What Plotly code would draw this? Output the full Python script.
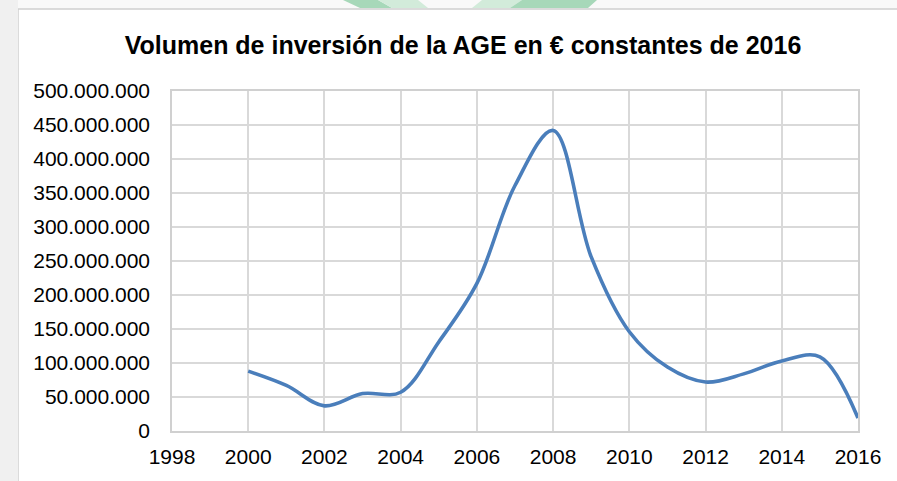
import plotly.graph_objects as go

# ---- data ----
years = [2000, 2001, 2002, 2003, 2004, 2005, 2006, 2007, 2008,
         2009, 2010, 2011, 2012, 2013, 2014, 2015, 2016]
inversion = [88e6, 67e6, 37e6, 55e6, 57e6, 131e6, 217e6, 361e6, 442e6,
             256e6, 146e6, 94e6, 72e6, 84e6, 103e6, 109e6, 19e6]
x_ticks = [1998, 2000, 2002, 2004, 2006, 2008, 2010, 2012, 2014, 2016]
y_ticks = [0, 50e6, 100e6, 150e6, 200e6, 250e6, 300e6, 350e6, 400e6, 450e6, 500e6]
title_text = "Volumen de inversión de la AGE en € constantes de 2016"

W, H = 897, 481
L, R, T, B = 172, 39, 91, 50
PW, PH = W - L - R, H - T - B

def px_x(p):
    return (p - L) / PW

def px_y(p):
    return (H - B - p) / PH

FONT = "Liberation Sans, Arial, sans-serif"

fig = go.Figure()
fig.add_trace(go.Scatter(
    x=years, y=inversion, mode="lines",
    line=dict(color="#4a7ebb", width=3.6, shape="spline", smoothing=1.0),
    hoverinfo="x+y", showlegend=False,
))

shapes = []
# white chart box with light border (extends past right/bottom edges)
shapes.append(dict(type="rect", xref="paper", yref="paper", layer="below",
                   x0=px_x(18), x1=px_x(W + 10), y0=px_y(H + 10), y1=px_y(9),
                   fillcolor="white", line=dict(color="#d0d0d0", width=1.5)))
# faint green watermark strokes above the box
def poly(pts, color):
    path = "M " + " L ".join(f"{px_x(a)},{px_y(b)}" for a, b in pts) + " Z"
    return dict(type="path", xref="paper", yref="paper", layer="below",
                path=path, fillcolor=color, line=dict(width=0))
shapes.append(poly([(343, 0), (378, 0), (392, 8), (360, 8)], "#a7d8b9"))
shapes.append(poly([(378, 0), (418, 0), (428, 8), (392, 8)], "#d2ebda"))
shapes.append(poly([(482, 0), (522, 0), (510, 8), (472, 8)], "#d2ebda"))
shapes.append(poly([(522, 0), (597, 0), (588, 8), (510, 8)], "#a7d8b9"))
# faint grey watermark at the left edge
shapes.append(poly([(0, 0), (18, 0), (18, 481), (0, 481)], "#f0f0f0"))

fig.update_layout(
    width=W, height=H,
    margin=dict(l=L, r=R, t=T, b=B, pad=0),
    paper_bgcolor="#f9f9f9",
    plot_bgcolor="white",
    separators=",.",
    font=dict(family=FONT, size=21, color="#000000"),
    title=dict(text="<b>" + title_text + "</b>", x=463 / W, xanchor="center",
               y=1 - 45 / H, yanchor="middle", yref="container",
               font=dict(family=FONT, size=25, color="#000000")),
    shapes=shapes,
    xaxis=dict(range=[1998, 2016], tickvals=x_ticks, ticktext=[str(v) for v in x_ticks],
               showgrid=True, gridcolor="#d9d9d9", gridwidth=1.5,
               showline=True, linecolor="#d0d0d0", linewidth=1.5, mirror=True,
               ticks="outside", ticklen=6, tickcolor="rgba(0,0,0,0)",
               zeroline=False, tickfont=dict(size=21, color="#000000")),
    yaxis=dict(range=[0, 500e6], tickvals=y_ticks, tickformat=",d",
               showgrid=True, gridcolor="#d9d9d9", gridwidth=1.5,
               showline=True, linecolor="#d0d0d0", linewidth=1.5, mirror=True,
               ticks="outside", ticklen=16, tickcolor="rgba(0,0,0,0)",
               zeroline=False, tickfont=dict(size=21, color="#000000")),
)

fig.write_html("out.html", config={"displayModeBar": False},
               post_script="document.body.style.margin='0';")
